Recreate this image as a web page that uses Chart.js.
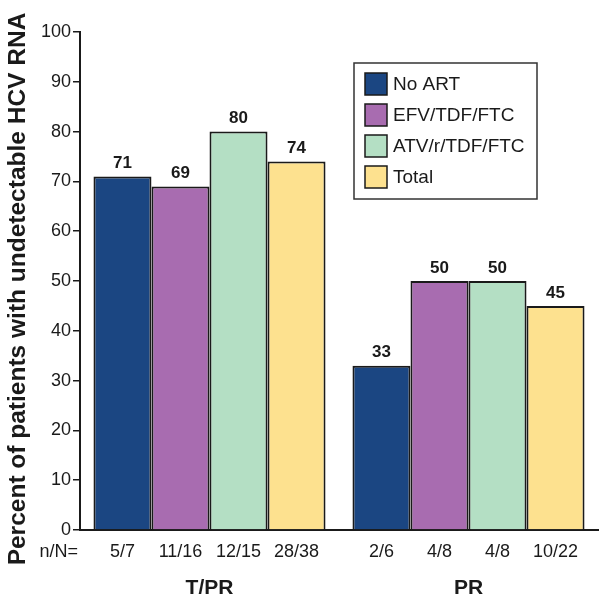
<!DOCTYPE html>
<html>
<head>
<meta charset="utf-8">
<script src="https://cdn.jsdelivr.net/npm/chart.js@4.4.1/dist/chart.umd.min.js"></script>
<style>
  html, body { margin: 0; padding: 0; background: #fff; }
  #wrap { width: 600px; height: 600px; }
</style>
</head>
<body>
<div id="wrap"><canvas id="chart" width="600" height="600"></canvas></div>
<script>
// groups on the x axis
const groups = ["T/PR", "PR"];

// series names
const seriesNames = ["No ART", "EFV/TDF/FTC", "ATV/r/TDF/FTC", "Total"];

// percent with undetectable HCV RNA, per series, per group
const noArt = [71, 33];
const efv = [69, 50];
const atv = [80, 50];
const total = [74, 45];

// n/N counts under each bar
const noArtN = ["5/7", "2/6"];
const efvN = ["11/16", "4/8"];
const atvN = ["12/15", "4/8"];
const totalN = ["28/38", "10/22"];

const yTitle = "Percent of patients with undetectable HCV RNA";

const colors = ["#1b4682", "#a86cb0", "#b4dfc4", "#fde18f"];
const ink = "#1a1a1a";
const font = "'Liberation Sans', Arial, Helvetica, sans-serif";

const values = [noArt, efv, atv, total];
const counts = [noArtN, efvN, atvN, totalN];

// value labels, n/N row, y title and the boxed legend
const extras = {
  id: "extras",
  afterDatasetsDraw(chart) {
    const ctx = chart.ctx;
    const area = chart.chartArea;
    ctx.save();
    ctx.fillStyle = ink;
    ctx.textAlign = "center";
    ctx.textBaseline = "middle";

    chart.data.datasets.forEach((ds, i) => {
      const meta = chart.getDatasetMeta(i);
      meta.data.forEach((bar, j) => {
        ctx.font = "bold 17px " + font;
        ctx.fillText(String(ds.data[j]), bar.x, bar.y - 13);
        ctx.font = "18px " + font;
        ctx.fillText(counts[i][j], bar.x, area.bottom + 22);
      });
    });

    ctx.textAlign = "right";
    ctx.font = "18px " + font;
    ctx.fillText("n/N=", area.left - 2, area.bottom + 22);

    // y axis title
    ctx.save();
    ctx.translate(18, 289);
    ctx.rotate(-Math.PI / 2);
    ctx.textAlign = "center";
    ctx.font = "bold 24.5px " + font;
    ctx.fillText(yTitle, 0, 0);
    ctx.restore();

    // legend
    const lx = 354, ly = 63, lw = 183, lh = 136;
    ctx.fillStyle = "#fff";
    ctx.fillRect(lx, ly, lw, lh);
    ctx.strokeStyle = "#333";
    ctx.lineWidth = 1.5;
    ctx.strokeRect(lx, ly, lw, lh);
    ctx.textAlign = "left";
    ctx.font = "19px " + font;
    chart.data.datasets.forEach((ds, i) => {
      const cy = 84 + i * 31;
      ctx.fillStyle = ds.backgroundColor;
      ctx.fillRect(lx + 11, cy - 11, 22, 22);
      ctx.strokeStyle = ink;
      ctx.lineWidth = 1.5;
      ctx.strokeRect(lx + 11, cy - 11, 22, 22);
      ctx.fillStyle = ink;
      ctx.fillText(ds.label, lx + 39, cy + 1);
    });
    ctx.restore();
  }
};

new Chart(document.getElementById("chart"), {
  type: "bar",
  data: {
    labels: groups,
    datasets: seriesNames.map((name, i) => ({
      label: name,
      data: values[i],
      backgroundColor: colors[i],
      borderColor: ink,
      borderWidth: 2,
      borderSkipped: "bottom",
      categoryPercentage: 0.896,
      barPercentage: 1.0
    }))
  },
  options: {
    responsive: false,
    animation: false,
    layout: { padding: { left: 0, right: 2, top: 32, bottom: 0 } },
    plugins: {
      legend: { display: false },
      tooltip: { enabled: false }
    },
    scales: {
      x: {
        grid: { display: false },
        border: { color: ink, width: 2 },
        ticks: {
          color: ink,
          padding: 38,
          font: { family: font, size: 21, weight: "bold" }
        },
        afterFit(s) { s.height = 70; }
      },
      y: {
        min: 0,
        max: 100,
        ticks: {
          stepSize: 10,
          color: ink,
          padding: 2,
          font: { family: font, size: 18 }
        },
        grid: { drawOnChartArea: false, drawTicks: true, tickLength: 7, color: ink, lineWidth: 1.5 },
        border: { color: ink, width: 2 },
        afterFit(s) { s.width = 80; }
      }
    }
  },
  plugins: [extras]
});
</script>
</body>
</html>
